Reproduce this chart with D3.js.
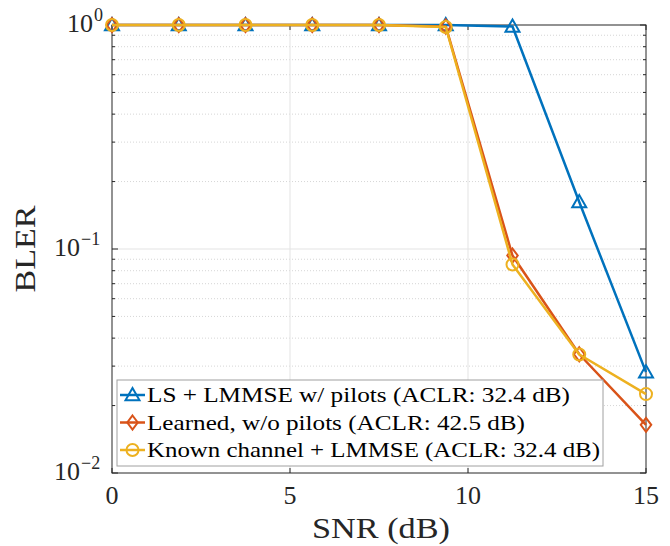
<!DOCTYPE html>
<html><head><meta charset="utf-8">
<script src="https://cdn.jsdelivr.net/npm/d3@7"></script>
<style>body{margin:0;background:#fff}</style>
</head><body><svg id="c" width="670" height="546"></svg>
<script>
const snr = [0, 1.875, 3.75, 5.625, 7.5, 9.375, 11.25, 13.125, 15];
const blerLS = [1, 1, 1, 1, 1, 1, 0.985, 0.162, 0.0282];
const blerLearned = [1, 1, 1, 1, 1, 0.985, 0.0935, 0.0339, 0.0164];
const blerKnown = [1, 1, 1, 1, 1, 0.98, 0.0853, 0.0338, 0.0225];
const seriesNames = ["LS + LMMSE w/ pilots (ACLR: 32.4 dB)", "Learned, w/o pilots (ACLR: 42.5 dB)", "Known channel + LMMSE (ACLR: 32.4 dB)"];
const xTicks = [0, 5, 10, 15];
const yTickExp = [0, -1, -2];

const colors = ["#0072BD", "#D95319", "#EDB120"];
const markers = ["triangle", "diamond", "circle"];
const svg = d3.select("#c");
const L = 112, R = 646, T = 25, B = 473;
const x = d3.scaleLinear().domain([0, 15]).range([L, R]);
const y = d3.scaleLog().domain([0.01, 1]).range([B, T]);
const font = "'Liberation Serif', 'DejaVu Serif', serif";
const txtColor = "#262626";

// minor grid
const minors = [];
for (let d = -2; d < 0; d++) for (let k = 2; k <= 9; k++) minors.push(k * Math.pow(10, d));
svg.append("g").selectAll("line").data(minors).join("line")
  .attr("x1", L).attr("x2", R).attr("y1", d => y(d)).attr("y2", d => y(d))
  .attr("stroke", "#d6d6d6").attr("stroke-width", 1).attr("stroke-dasharray", "1,2");
// major grid
svg.append("g").selectAll("line").data(xTicks.slice(1, -1)).join("line")
  .attr("x1", d => x(d)).attr("x2", d => x(d)).attr("y1", T).attr("y2", B)
  .attr("stroke", "#e3e3e3").attr("stroke-width", 1);
svg.append("g").selectAll("line").data([0.1]).join("line")
  .attr("x1", L).attr("x2", R).attr("y1", d => y(d)).attr("y2", d => y(d))
  .attr("stroke", "#e3e3e3").attr("stroke-width", 1);

// axes box
svg.append("rect").attr("x", L).attr("y", T).attr("width", R - L).attr("height", B - T)
  .attr("fill", "none").attr("stroke", txtColor).attr("stroke-width", 1);

// ticks inward
const tk = svg.append("g").attr("stroke", txtColor).attr("stroke-width", 1);
xTicks.forEach(t => {
  tk.append("line").attr("x1", x(t)).attr("x2", x(t)).attr("y1", B).attr("y2", B - 5);
  tk.append("line").attr("x1", x(t)).attr("x2", x(t)).attr("y1", T).attr("y2", T + 5);
});
yTickExp.forEach(e => {
  const v = Math.pow(10, e);
  tk.append("line").attr("x1", L).attr("x2", L + 6).attr("y1", y(v)).attr("y2", y(v));
  tk.append("line").attr("x1", R).attr("x2", R - 6).attr("y1", y(v)).attr("y2", y(v));
});
minors.forEach(v => {
  tk.append("line").attr("x1", L).attr("x2", L + 3).attr("y1", y(v)).attr("y2", y(v));
  tk.append("line").attr("x1", R).attr("x2", R - 3).attr("y1", y(v)).attr("y2", y(v));
});

// tick labels
svg.append("g").selectAll("text").data(xTicks).join("text")
  .attr("x", d => x(d)).attr("y", B + 31).attr("text-anchor", "middle")
  .attr("font-family", font).attr("font-size", 26).attr("fill", txtColor).text(d => d);
const yl = svg.append("g");
yTickExp.forEach(e => {
  const by = y(Math.pow(10, e)) + 7;
  const supW = e === 0 ? 10 : 23;
  yl.append("text").attr("x", 104 - supW - 1).attr("y", by)
    .attr("text-anchor", "end").attr("font-family", font).attr("font-size", 26).attr("fill", txtColor).text("10");
  yl.append("text").attr("x", 104 - supW).attr("y", by - 11)
    .attr("font-family", font).attr("font-size", 18).attr("fill", txtColor)
    .text(e === 0 ? "0" : "\u2212" + (-e));
});
svg.append("text").attr("x", (L + R) / 2 + 2).attr("y", 538).attr("text-anchor", "middle")
  .attr("font-family", font).attr("font-size", 30).attr("fill", txtColor)
  .attr("textLength", 138).attr("lengthAdjust", "spacingAndGlyphs").text("SNR (dB)");
svg.append("text").attr("transform", `translate(35,249) rotate(-90)`).attr("text-anchor", "middle")
  .attr("font-family", font).attr("font-size", 29).attr("fill", txtColor)
  .attr("textLength", 87).attr("lengthAdjust", "spacingAndGlyphs").text("BLER");

function drawMarker(g, type, cx, cy, color) {
  if (type === "triangle") {
    const s = 7;
    g.append("path").attr("d", `M${cx},${cy - s}L${cx + s},${cy + s * 0.75}L${cx - s},${cy + s * 0.75}Z`)
      .attr("fill", "none").attr("stroke", color).attr("stroke-width", 2);
  } else if (type === "diamond") {
    const s = 7;
    g.append("path").attr("d", `M${cx},${cy - s}L${cx + s * 0.75},${cy}L${cx},${cy + s}L${cx - s * 0.75},${cy}Z`)
      .attr("fill", "none").attr("stroke", color).attr("stroke-width", 2);
  } else {
    g.append("circle").attr("cx", cx).attr("cy", cy).attr("r", 6)
      .attr("fill", "none").attr("stroke", color).attr("stroke-width", 2);
  }
}

const allSeries = [blerLS, blerLearned, blerKnown];
const line = d3.line().x((d, i) => x(snr[i])).y(d => y(d));
allSeries.forEach((s, k) => {
  const g = svg.append("g");
  g.append("path").datum(s).attr("d", line).attr("fill", "none")
    .attr("stroke", colors[k]).attr("stroke-width", 2.5).attr("stroke-linejoin", "round");
  s.forEach((v, i) => drawMarker(g, markers[k], x(snr[i]), y(v), colors[k]));
});

// legend
const legendW = [423, 378, 453];
const lg = svg.append("g");
lg.append("rect").attr("x", 117).attr("y", 380).attr("width", 486).attr("height", 86)
  .attr("fill", "#fff").attr("stroke", "#a0a0a0").attr("stroke-width", 1);
seriesNames.forEach((n, k) => {
  const cy = 395 + k * 27.5;
  lg.append("line").attr("x1", 120).attr("x2", 145).attr("y1", cy).attr("y2", cy)
    .attr("stroke", colors[k]).attr("stroke-width", 2.5);
  drawMarker(lg, markers[k], 132.5, cy, colors[k]);
  lg.append("text").attr("x", 147).attr("y", cy + 7).attr("font-family", font).attr("font-size", 21)
    .attr("fill", "#000").attr("textLength", legendW[k]).attr("lengthAdjust", "spacingAndGlyphs").text(n);
});
</script></body></html>
